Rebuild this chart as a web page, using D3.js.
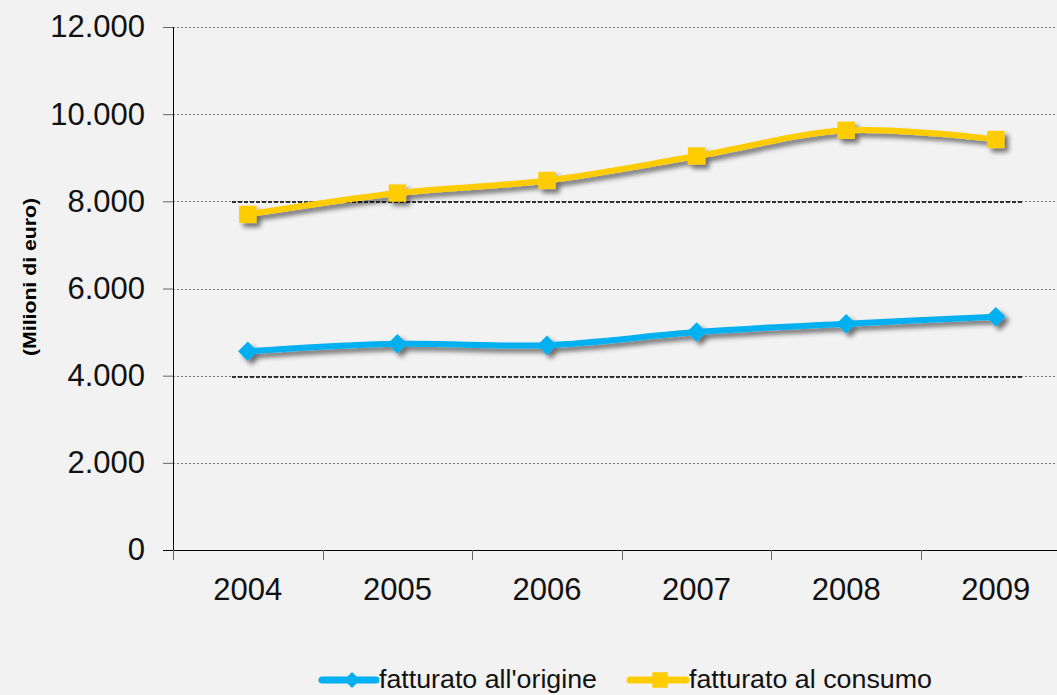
<!DOCTYPE html>
<html>
<head>
<meta charset="utf-8">
<script src="https://cdn.jsdelivr.net/npm/d3@7"></script>
<style>
  body { margin: 0; background: #f2f2f2; }
  svg { display: block; font-family: "Liberation Sans", Arial, sans-serif; }
</style>
</head>
<body>
<svg id="chart"></svg>
<script>
const width = 1057;
const height = 695;

const years = ['2004', '2005', '2006', '2007', '2008', '2009'];
const origine = [4560, 4730, 4700, 5000, 5190, 5350];
const consumo = [7700, 8190, 8480, 9040, 9630, 9420];
const yTicks = [0, 2000, 4000, 6000, 8000, 10000, 12000];
const heavyLines = [4000, 8000];

const svg = d3.select('#chart').attr('width', width).attr('height', height);

const x = d3.scaleBand().domain(years).range([173, 1070.6]);
const y = d3.scaleLinear().domain([0, 12000]).range([550, 27]);

const fmt = d => d3.format(',')(d).replace(/,/g, '.');

// shadow filter
const defs = svg.append('defs');
const f = defs.append('filter').attr('id', 'shadow').attr('x', '-20%').attr('y', '-50%').attr('width', '140%').attr('height', '200%');
f.append('feGaussianBlur').attr('in', 'SourceAlpha').attr('stdDeviation', 2.5).attr('result', 'blur');
f.append('feOffset').attr('dx', 4).attr('dy', 4).attr('result', 'off');
f.append('feComponentTransfer').append('feFuncA').attr('type', 'linear').attr('slope', 0.55);
const merge = f.append('feMerge');
merge.append('feMergeNode');
merge.append('feMergeNode').attr('in', 'SourceGraphic');

// gridlines
svg.append('g').selectAll('line').data(yTicks.filter(d => d > 0)).enter().append('line')
  .attr('x1', 173).attr('x2', width)
  .attr('y1', d => Math.round(y(d)) + 0.5).attr('y2', d => Math.round(y(d)) + 0.5)
  .attr('stroke', '#777').attr('stroke-width', 1).attr('stroke-dasharray', '2,2');

// heavier dashed lines
svg.append('g').selectAll('line').data(heavyLines).enter().append('line')
  .attr('x1', 232).attr('x2', 1022)
  .attr('y1', d => Math.round(y(d)) + 1).attr('y2', d => Math.round(y(d)) + 1)
  .attr('stroke', '#333').attr('stroke-width', 2).attr('stroke-dasharray', '4,2');

// y axis
const yAxis = svg.append('g').attr('transform', 'translate(173,0)')
  .call(d3.axisLeft(y).tickValues(yTicks).tickSize(10).tickPadding(18).tickFormat(fmt));
yAxis.select('.domain').attr('stroke', '#000').attr('d', 'M0.5,27V550.5');
yAxis.selectAll('.tick line').attr('stroke', '#666');
yAxis.selectAll('text').attr('font-size', 31).attr('fill', '#111');

// x axis
const xAxis = svg.append('g').attr('transform', 'translate(0,550)');
xAxis.append('line').attr('x1', 163).attr('x2', width).attr('y1', 0.5).attr('y2', 0.5).attr('stroke', '#000');
xAxis.selectAll('.xt').data(years).enter().append('line')
  .attr('x1', d => Math.round(x(d)) + 0.5).attr('x2', d => Math.round(x(d)) + 0.5)
  .attr('y1', 0).attr('y2', 10).attr('stroke', '#666');
xAxis.selectAll('text').data(years).enter().append('text')
  .attr('x', d => x(d) + x.bandwidth() / 2).attr('y', 50)
  .attr('text-anchor', 'middle').attr('font-size', 31).attr('fill', '#111')
  .text(d => d);

// y label
svg.append('text').attr('transform', 'translate(36,277) rotate(-90)')
  .attr('text-anchor', 'middle').attr('font-size', 18).attr('font-weight', 'bold')
  .attr('textLength', 158).attr('lengthAdjust', 'spacingAndGlyphs')
  .text('(Milioni di euro)');

const cx = d => x(d) + x.bandwidth() / 2;
const line = d3.line().x(d => cx(d.year)).y(d => y(d.value)).curve(d3.curveCatmullRom.alpha(0.5));

const series = [
  { name: "fatturato all'origine", values: origine, color: '#00b0f0', marker: 'diamond' },
  { name: 'fatturato al consumo', values: consumo, color: '#ffcc00', marker: 'square' }
];

series.forEach(s => {
  const pts = years.map((yr, i) => ({ year: yr, value: s.values[i] }));
  const g = svg.append('g').attr('filter', 'url(#shadow)');
  g.append('path').datum(pts).attr('d', line)
    .attr('fill', 'none').attr('stroke', s.color).attr('stroke-width', 6);
  const sym = s.marker === 'diamond' ? d3.symbol(d3.symbolSquare, 190) : d3.symbol(d3.symbolSquare, 300);
  g.selectAll('path.m').data(pts).enter().append('path')
    .attr('d', sym)
    .attr('transform', d => `translate(${cx(d.year)},${y(d.value)})` + (s.marker === 'diamond' ? ' rotate(45)' : ''))
    .attr('fill', s.color);
});

// legend
const legendY = 680;
const legendPos = [
  { x1: 322, x2: 376, mx: 352, tx: 379, tl: 218 },
  { x1: 630, x2: 686, mx: 660, tx: 689, tl: 243 }
];
series.forEach((s, i) => {
  const lg = svg.append('g');
  const L = legendPos[i];
  lg.append('line').attr('x1', L.x1).attr('x2', L.x2).attr('y1', legendY).attr('y2', legendY)
    .attr('stroke', s.color).attr('stroke-width', 7).attr('stroke-linecap', 'round');
  lg.append('path')
    .attr('d', s.marker === 'diamond' ? d3.symbol(d3.symbolSquare, 130)() : d3.symbol(d3.symbolSquare, 240)())
    .attr('transform', `translate(${L.mx},${legendY})` + (s.marker === 'diamond' ? ' rotate(45)' : ''))
    .attr('fill', s.color);
  lg.append('text').attr('x', L.tx).attr('y', legendY + 8).attr('font-size', 25).attr('fill', '#111')
    .attr('textLength', L.tl).attr('lengthAdjust', 'spacingAndGlyphs')
    .text(s.name);
});
</script>
</body>
</html>
